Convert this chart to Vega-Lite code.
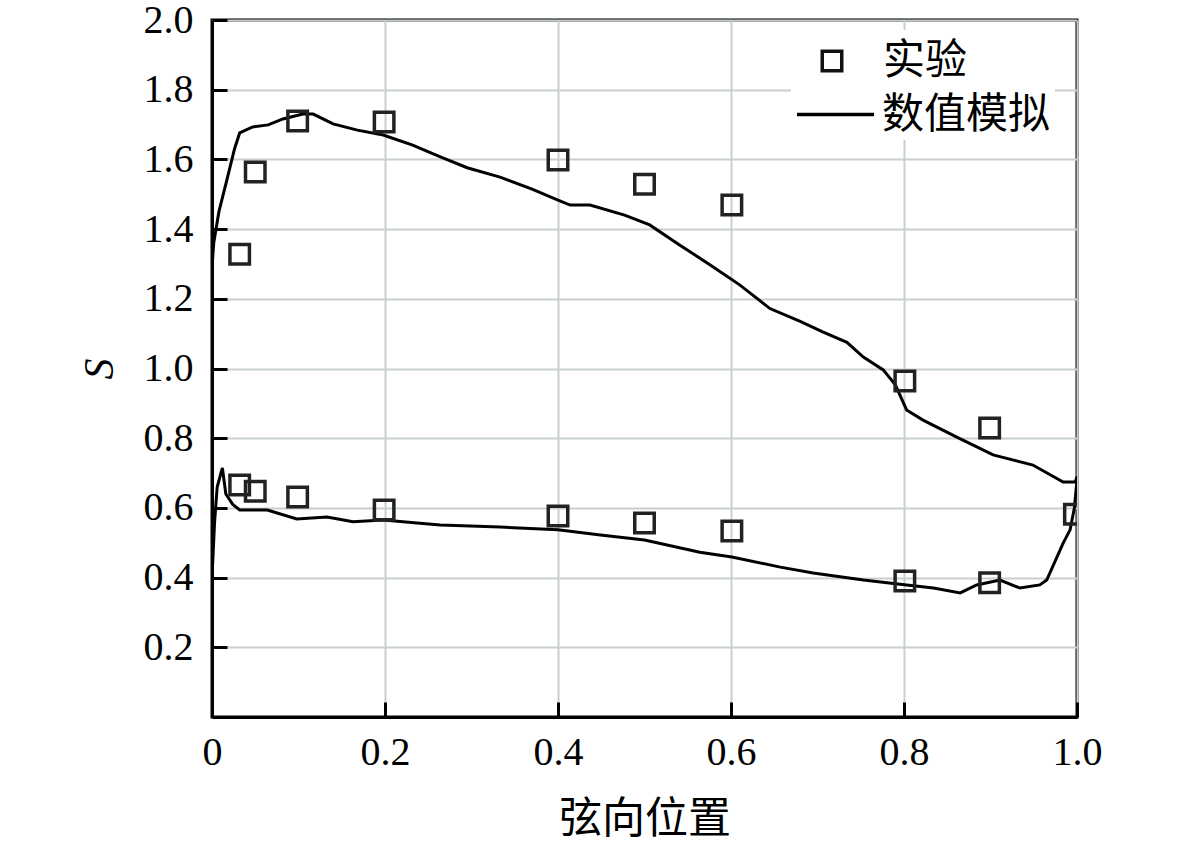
{
  "$schema": "https://vega.github.io/schema/vega-lite/v6.json",
  "width": 865,
  "height": 697,
  "autosize": {"type": "none"},
  "padding": {"left": 212, "top": 20, "right": 104, "bottom": 130},
  "background": "white",
  "datasets": {
    "sim": [
      {"surface": "upper", "x": 0.0, "s": 1.29},
      {"surface": "upper", "x": 0.002, "s": 1.36},
      {"surface": "upper", "x": 0.008, "s": 1.45},
      {"surface": "upper", "x": 0.018, "s": 1.549},
      {"surface": "upper", "x": 0.026, "s": 1.63},
      {"surface": "upper", "x": 0.032, "s": 1.676},
      {"surface": "upper", "x": 0.047, "s": 1.693},
      {"surface": "upper", "x": 0.065, "s": 1.699},
      {"surface": "upper", "x": 0.082, "s": 1.716},
      {"surface": "upper", "x": 0.105, "s": 1.73},
      {"surface": "upper", "x": 0.117, "s": 1.73},
      {"surface": "upper", "x": 0.14, "s": 1.702},
      {"surface": "upper", "x": 0.168, "s": 1.684},
      {"surface": "upper", "x": 0.198, "s": 1.67},
      {"surface": "upper", "x": 0.232, "s": 1.641},
      {"surface": "upper", "x": 0.264, "s": 1.607},
      {"surface": "upper", "x": 0.295, "s": 1.576},
      {"surface": "upper", "x": 0.333, "s": 1.549},
      {"surface": "upper", "x": 0.37, "s": 1.515},
      {"surface": "upper", "x": 0.4, "s": 1.483},
      {"surface": "upper", "x": 0.414, "s": 1.469},
      {"surface": "upper", "x": 0.437, "s": 1.469},
      {"surface": "upper", "x": 0.477, "s": 1.44},
      {"surface": "upper", "x": 0.506, "s": 1.412},
      {"surface": "upper", "x": 0.541, "s": 1.354},
      {"surface": "upper", "x": 0.576, "s": 1.297},
      {"surface": "upper", "x": 0.61, "s": 1.24},
      {"surface": "upper", "x": 0.645, "s": 1.172},
      {"surface": "upper", "x": 0.68, "s": 1.135},
      {"surface": "upper", "x": 0.706, "s": 1.105},
      {"surface": "upper", "x": 0.734, "s": 1.075},
      {"surface": "upper", "x": 0.753, "s": 1.033},
      {"surface": "upper", "x": 0.776, "s": 0.996},
      {"surface": "upper", "x": 0.79, "s": 0.953},
      {"surface": "upper", "x": 0.803, "s": 0.881},
      {"surface": "upper", "x": 0.822, "s": 0.852},
      {"surface": "upper", "x": 0.861, "s": 0.803},
      {"surface": "upper", "x": 0.903, "s": 0.752},
      {"surface": "upper", "x": 0.949, "s": 0.723},
      {"surface": "upper", "x": 0.984, "s": 0.674},
      {"surface": "upper", "x": 0.998, "s": 0.674},
      {"surface": "upper", "x": 1.0, "s": 0.69},
      {"surface": "lower", "x": 0.0, "s": 0.4},
      {"surface": "lower", "x": 0.003, "s": 0.56},
      {"surface": "lower", "x": 0.006, "s": 0.66},
      {"surface": "lower", "x": 0.012, "s": 0.715},
      {"surface": "lower", "x": 0.016, "s": 0.64},
      {"surface": "lower", "x": 0.024, "s": 0.61},
      {"surface": "lower", "x": 0.032, "s": 0.594},
      {"surface": "lower", "x": 0.064, "s": 0.594},
      {"surface": "lower", "x": 0.098, "s": 0.568},
      {"surface": "lower", "x": 0.133, "s": 0.574},
      {"surface": "lower", "x": 0.163, "s": 0.56},
      {"surface": "lower", "x": 0.198, "s": 0.565},
      {"surface": "lower", "x": 0.237, "s": 0.557},
      {"surface": "lower", "x": 0.264, "s": 0.551},
      {"surface": "lower", "x": 0.333, "s": 0.545},
      {"surface": "lower", "x": 0.4, "s": 0.537},
      {"surface": "lower", "x": 0.449, "s": 0.522},
      {"surface": "lower", "x": 0.5, "s": 0.508},
      {"surface": "lower", "x": 0.564, "s": 0.473},
      {"surface": "lower", "x": 0.601, "s": 0.459},
      {"surface": "lower", "x": 0.657, "s": 0.43},
      {"surface": "lower", "x": 0.695, "s": 0.413},
      {"surface": "lower", "x": 0.753, "s": 0.393},
      {"surface": "lower", "x": 0.803, "s": 0.379},
      {"surface": "lower", "x": 0.834, "s": 0.37},
      {"surface": "lower", "x": 0.865, "s": 0.356},
      {"surface": "lower", "x": 0.884, "s": 0.379},
      {"surface": "lower", "x": 0.911, "s": 0.393},
      {"surface": "lower", "x": 0.934, "s": 0.37},
      {"surface": "lower", "x": 0.957, "s": 0.379},
      {"surface": "lower", "x": 0.965, "s": 0.393},
      {"surface": "lower", "x": 0.984, "s": 0.499},
      {"surface": "lower", "x": 0.992, "s": 0.537},
      {"surface": "lower", "x": 0.997, "s": 0.6},
      {"surface": "lower", "x": 1.0, "s": 0.68}
    ],
    "exp": [
      {"series": "实验", "x": 0.032, "s": 1.328},
      {"series": "实验", "x": 0.05, "s": 1.564},
      {"series": "实验", "x": 0.099, "s": 1.71},
      {"series": "实验", "x": 0.199, "s": 1.707},
      {"series": "实验", "x": 0.4, "s": 1.598},
      {"series": "实验", "x": 0.5, "s": 1.529},
      {"series": "实验", "x": 0.601, "s": 1.469},
      {"series": "实验", "x": 0.801, "s": 0.964},
      {"series": "实验", "x": 0.899, "s": 0.829},
      {"series": "实验", "x": 0.032, "s": 0.666},
      {"series": "实验", "x": 0.05, "s": 0.648},
      {"series": "实验", "x": 0.099, "s": 0.631},
      {"series": "实验", "x": 0.199, "s": 0.594},
      {"series": "实验", "x": 0.4, "s": 0.577},
      {"series": "实验", "x": 0.5, "s": 0.557},
      {"series": "实验", "x": 0.601, "s": 0.534},
      {"series": "实验", "x": 0.801, "s": 0.39},
      {"series": "实验", "x": 0.899, "s": 0.385},
      {"series": "实验", "x": 0.997, "s": 0.582}
    ]
  },
  "encoding": {
    "x": {
      "field": "x",
      "type": "quantitative",
      "scale": {"domain": [0, 1], "nice": false, "zero": false},
      "axis": {
        "title": "弦向位置",
        "titleFont": "Noto Sans CJK SC",
        "titleFontSize": 43,
        "titlePadding": 26,
        "values": [0, 0.2, 0.4, 0.6, 0.8, 1.0],
        "labelExpr": "datum.value == 0 ? '0' : format(datum.value, '.1f')",
        "labelPadding": 30,
        "labelFlush": false
      }
    },
    "y": {
      "field": "s",
      "type": "quantitative",
      "scale": {"domain": [0, 2], "nice": false},
      "axis": {
        "title": "S",
        "titleFont": "Liberation Serif",
        "titleFontStyle": "italic",
        "titleFontSize": 42,
        "titlePadding": 22,
        "values": [0.2, 0.4, 0.6, 0.8, 1.0, 1.2, 1.4, 1.6, 1.8, 2.0],
        "format": ".1f",
        "labelPadding": 34,
        "labelFlush": false
      }
    }
  },
  "layer": [
    {
      "data": {"name": "sim"},
      "mark": {"type": "line", "strokeWidth": 3, "clip": true},
      "encoding": {
        "detail": {"field": "surface"},
        "color": {
          "datum": "数值模拟",
          "type": "nominal",
          "scale": {"domain": ["数值模拟"], "range": ["black"]},
          "legend": {
            "title": null,
            "orient": "none",
            "legendX": 579,
            "legendY": 50,
            "fillColor": "white",
            "padding": 4,
            "labelFont": "Noto Sans CJK SC",
            "labelFontSize": 42,
            "labelColor": "black",
            "labelOffset": 6,
            "labelLimit": 0,
            "symbolType": "stroke",
            "symbolSize": 5929,
            "symbolStrokeWidth": 3.5
          }
        }
      }
    },
    {
      "data": {"name": "exp"},
      "mark": {"type": "point", "filled": false, "stroke": "#222", "strokeWidth": 3.5, "size": 380, "opacity": 1, "clip": true},
      "encoding": {
        "shape": {
          "field": "series",
          "type": "nominal",
          "scale": {"domain": ["实验"], "range": ["square"]},
          "legend": {
            "title": null,
            "orient": "none",
            "legendX": 589,
            "legendY": 10,
            "fillColor": "white",
            "padding": 10,
            "labelFont": "Noto Sans CJK SC",
            "labelFontSize": 42,
            "labelColor": "black",
            "labelOffset": 30,
            "labelLimit": 0,
            "symbolSize": 380,
            "symbolStrokeColor": "#111",
            "symbolFillColor": "transparent",
            "symbolStrokeWidth": 3.5
          }
        }
      }
    }
  ],
  "config": {
    "view": {"stroke": "black", "strokeWidth": 3},
    "axis": {
      "labelFont": "Liberation Serif",
      "labelFontSize": 40,
      "labelColor": "black",
      "domainColor": "black",
      "domainWidth": 3,
      "tickColor": "black",
      "tickWidth": 3,
      "tickSize": -15,
      "gridColor": "#c8d0cf",
      "gridWidth": 2,
      "titleColor": "black",
      "titleFontWeight": "normal"
    }
  }
}
